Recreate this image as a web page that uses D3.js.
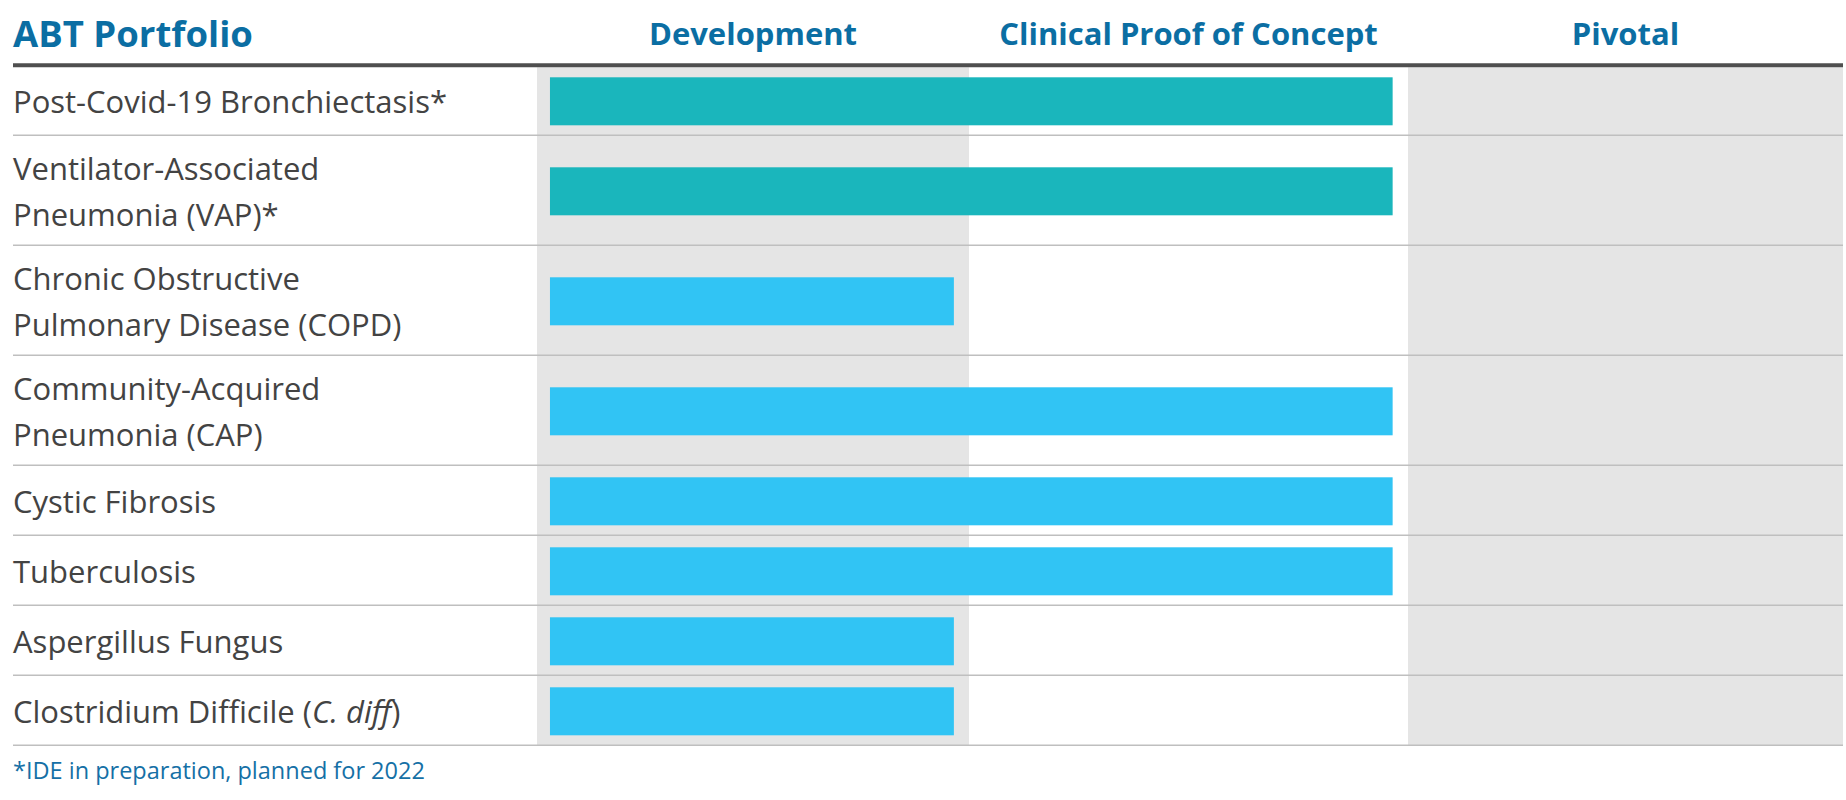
<!DOCTYPE html>
<html>
<head>
<meta charset="utf-8">
<script src="https://cdn.jsdelivr.net/npm/d3@7"></script>
<style>
  html, body { margin: 0; padding: 0; background: #ffffff; }
  svg { display: block; }
</style>
</head>
<body>
<div id="chart"></div>
<script>
// ---- data ----
const title = "ABT Portfolio";
const stages = ["Development", "Clinical Proof of Concept", "Pivotal"];
const indications = [
  ["Post-Covid-19 Bronchiectasis*"],
  ["Ventilator-Associated", "Pneumonia (VAP)*"],
  ["Chronic Obstructive", "Pulmonary Disease (COPD)"],
  ["Community-Acquired", "Pneumonia (CAP)"],
  ["Cystic Fibrosis"],
  ["Tuberculosis"],
  ["Aspergillus Fungus"],
  ["Clostridium Difficile (|C. diff|)"]
];
// stage reached (number of stages completed by the bar)
const stageReached = [2, 2, 1, 2, 2, 2, 1, 1];
// program group: "ide" = IDE in preparation (teal), "core" = other (blue)
const programGroup = ["ide", "ide", "core", "core", "core", "core", "core", "core"];
const footnote = "*IDE in preparation, planned for 2022";

// ---- layout ----
const W = 1846, H = 800;
const left = 13, right = 1843;
const topLine = 65.3, bottom = 745.3;
const blue = "#0b6ea3";

const svg = d3.select("#chart").append("svg")
  .attr("width", W).attr("height", H);

// x: stage boundaries
const x = d3.scaleLinear()
  .domain([0, 1, 2, 3])
  .range([537, 969, 1408, 1843]);

// y: rows sized by number of label lines
const units = indications.map(l => 3 + 4 * l.length);
const cum = [0, ...d3.cumsum(units)];
const y = d3.scaleLinear().domain([0, cum[cum.length - 1]]).range([topLine, bottom]);

const color = d3.scaleOrdinal().domain(["ide", "core"]).range(["#1ab6bc", "#31c4f4"]);

// shaded stage columns
svg.append("g").selectAll("rect")
  .data([0, 2])
  .join("rect")
  .attr("x", d => x(d))
  .attr("width", d => x(d + 1) - x(d))
  .attr("y", topLine + 2)
  .attr("height", bottom - topLine - 2)
  .attr("fill", "#e5e5e5");

// title and stage headers
svg.append("text")
  .attr("x", left).attr("y", 47.3)
  .attr("font-family", "'Open Sans', sans-serif")
  .attr("font-weight", 700)
  .attr("font-size", 36.5)
  .attr("fill", blue)
  .text(title);

svg.append("g").selectAll("text")
  .data(stages)
  .join("text")
  .attr("x", (d, i) => (x(i) + x(i + 1)) / 2)
  .attr("y", 45)
  .attr("text-anchor", "middle")
  .attr("font-family", "'Open Sans', sans-serif")
  .attr("font-weight", 700)
  .attr("font-size", 31)
  .attr("fill", blue)
  .text(d => d);

// row separators
svg.append("g").selectAll("line")
  .data(cum.slice(1))
  .join("line")
  .attr("x1", left).attr("x2", right)
  .attr("y1", d => y(d)).attr("y2", d => y(d))
  .attr("stroke", "#bfbfbf")
  .attr("stroke-width", 1.6);

// thick header rule
svg.append("line")
  .attr("x1", left).attr("x2", right)
  .attr("y1", topLine).attr("y2", topLine)
  .attr("stroke", "#4f4f4f")
  .attr("stroke-width", 4);

// bars
const barH = 48, padStart = 0.03, padEnd = 0.035;
svg.append("g").selectAll("rect")
  .data(indications.map((d, i) => i))
  .join("rect")
  .attr("x", x(padStart))
  .attr("width", i => x(stageReached[i] - padEnd) - x(padStart))
  .attr("y", i => (y(cum[i]) + y(cum[i + 1])) / 2 - barH / 2 + 1)
  .attr("height", barH)
  .attr("fill", i => color(programGroup[i]));

// labels
const fs = 31, lineGap = 45.5;
const labels = svg.append("g")
  .attr("font-family", "'Open Sans', sans-serif")
  .attr("font-size", fs)
  .attr("fill", "#434343");
indications.forEach((lines, i) => {
  const cy = (y(cum[i]) + y(cum[i + 1])) / 2;
  const n = lines.length;
  lines.forEach((ln, j) => {
    const base = cy + (j - (n - 1) / 2) * lineGap + 0.357 * fs + 1.5;
    const t = labels.append("text").attr("x", left).attr("y", base);
    ln.split("|").forEach((part, k) => {
      if (part === "") return;
      t.append("tspan")
        .attr("font-style", k % 2 === 1 ? "italic" : "normal")
        .text(part);
    });
  });
});

// footnote
svg.append("text")
  .attr("x", left).attr("y", 779)
  .attr("font-family", "'Open Sans', sans-serif")
  .attr("font-size", 23.5)
  .attr("fill", "#1570a6")
  .text(footnote);
</script>
</body>
</html>
